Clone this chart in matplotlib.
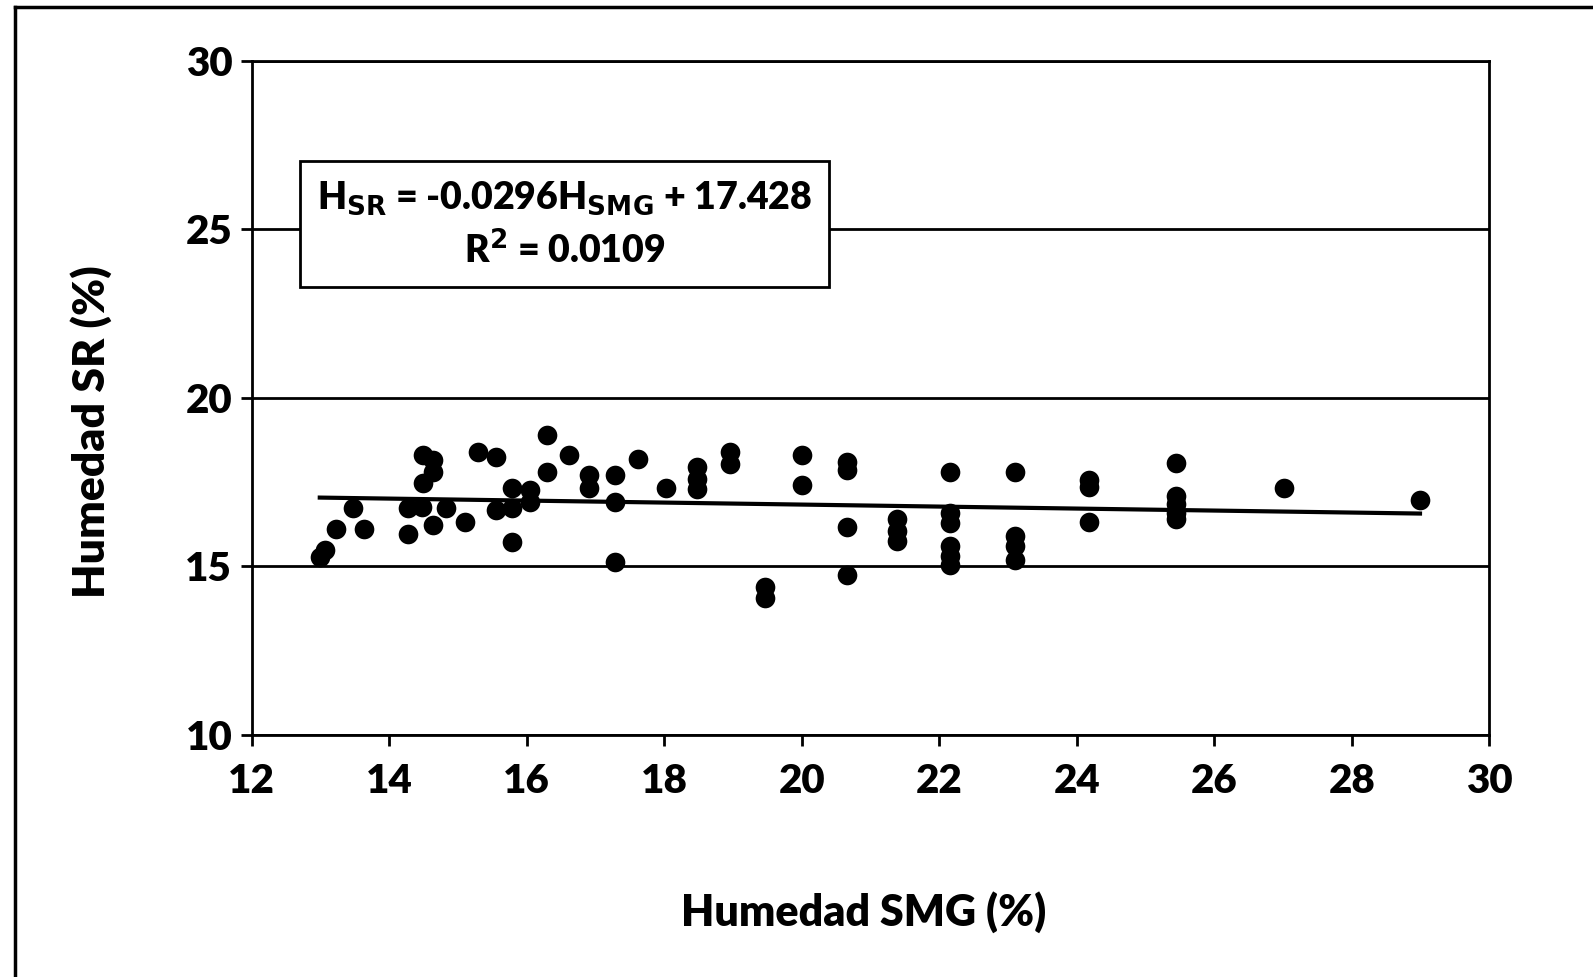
import matplotlib
matplotlib.use("Agg")
import matplotlib.pyplot as plt
from matplotlib.lines import Line2D
import numpy as np

plt.rcParams['font.family'] = ['Lato', 'DejaVu Sans']

x_smg = [12.99, 13.06, 13.22, 13.47, 13.63, 14.27, 14.27, 14.47, 14.49, 14.49,
         14.63, 14.63, 14.63, 14.83, 15.10, 15.29, 15.56, 15.56, 15.79, 15.79,
         15.79, 16.04, 16.04, 16.30, 16.30, 16.61, 16.91, 16.91, 17.28, 17.28,
         17.28, 17.62, 18.03, 18.48, 18.48, 18.48, 18.95, 18.95, 19.46, 19.46,
         20.01, 20.01, 20.66, 20.66, 20.66, 20.66, 21.38, 21.38, 21.38, 22.15,
         22.15, 22.15, 22.15, 22.15, 22.15, 23.10, 23.10, 23.10, 23.10, 24.17,
         24.17, 24.17, 25.44, 25.44, 25.44, 25.44, 25.44, 27.01, 28.99]
y_sr = [15.28, 15.49, 16.11, 16.74, 16.11, 15.96, 16.74, 16.77, 17.48, 18.31,
        18.16, 17.80, 16.23, 16.74, 16.32, 18.40, 18.25, 16.68, 17.33, 16.74,
        15.73, 17.27, 16.91, 18.90, 17.80, 18.31, 17.72, 17.33, 17.72, 16.91,
        15.13, 18.19, 17.33, 17.95, 17.60, 17.30, 18.40, 18.05, 14.39, 14.05,
        18.31, 17.42, 18.10, 17.85, 16.17, 14.75, 16.40, 16.05, 15.75, 17.80,
        16.60, 16.30, 15.60, 15.30, 15.05, 17.80, 15.90, 15.60, 15.20, 17.57,
        17.36, 16.32, 18.07, 17.10, 16.85, 16.60, 16.40, 17.33, 16.97]

slope = -0.0296
intercept = 17.428
x_ticks = [12, 14, 16, 18, 20, 22, 24, 26, 28, 30]
y_ticks = [10, 15, 20, 25, 30]

fig = plt.figure(figsize=(15.93, 9.77), dpi=100)
ax = fig.add_axes([0.158, 0.2477, 0.777, 0.69])

for yt in y_ticks:
    ax.axhline(yt, color='black', lw=2, zorder=1)

ax.scatter(x_smg, y_sr, s=200, color='black', zorder=3, linewidths=0)

xl = np.array([min(x_smg), max(x_smg)])
ax.plot(xl, slope * xl + intercept, color='black', lw=3, zorder=2)

ax.set_xlim(12, 30)
ax.set_ylim(10, 30)
ax.set_xticks(x_ticks)
ax.set_yticks(y_ticks)
ax.tick_params(axis='both', labelsize=29, direction='out', length=8, width=2,
               colors='black')
ax.tick_params(axis='x', pad=12)
ax.tick_params(axis='y', pad=6)
for lbl in ax.get_xticklabels() + ax.get_yticklabels():
    lbl.set_fontweight('heavy')
for sp in ax.spines.values():
    sp.set_linewidth(2)
    sp.set_color('black')

ax.set_xlabel('Humedad SMG (%)', fontsize=31, fontweight='heavy')
ax.set_ylabel('Humedad SR (%)', fontsize=32, fontweight='heavy')
ax.xaxis.set_label_coords(0.494, -0.231)
ax.yaxis.set_label_coords(-0.113, 0.45)

ax.text(0.2527, 0.757,
        r'H$_{\mathbf{SR}}$ = -0.0296H$_{\mathbf{SMG}}$ + 17.428' + '\n' +
        r'R$^{\mathbf{2}}$ = 0.0109',
        transform=ax.transAxes, ha='center', va='center', fontsize=27,
        fontweight='heavy', linespacing=1.4, zorder=5,
        bbox=dict(boxstyle='square,pad=0.45', facecolor='white',
                  edgecolor='black', linewidth=2))

# partial outer frame (top and left edges only)
fig.add_artist(Line2D([15 / 1593, 1.0], [1 - 7 / 977, 1 - 7 / 977],
                      transform=fig.transFigure, color='black', lw=2.5))
fig.add_artist(Line2D([15 / 1593, 15 / 1593], [1 - 7 / 977, 0.0],
                      transform=fig.transFigure, color='black', lw=2.5))

fig.savefig('out.png', dpi=100)
